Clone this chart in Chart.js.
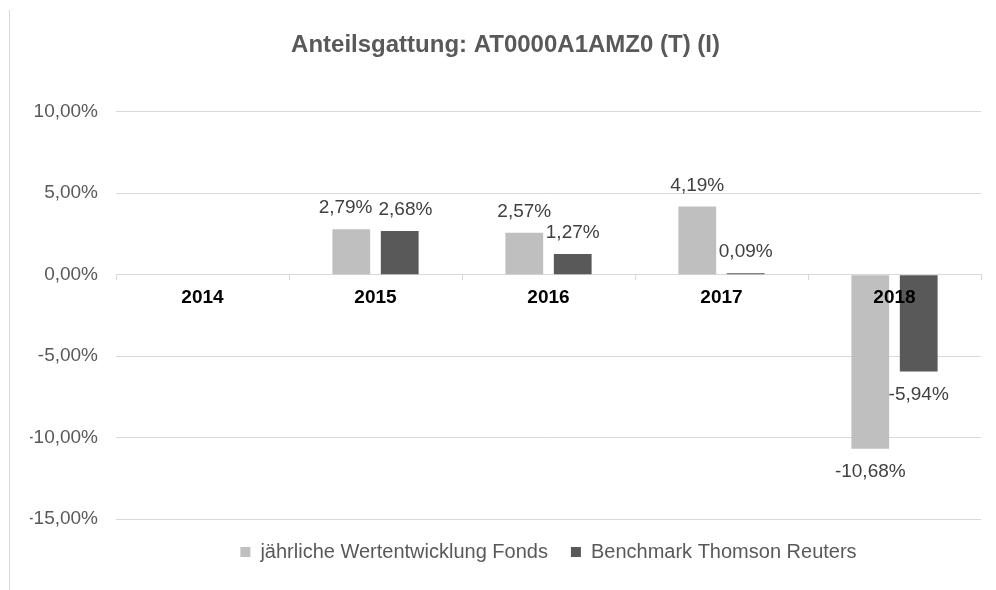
<!DOCTYPE html>
<html lang="de">
<head>
  <meta charset="UTF-8" />
  <title>Anteilsgattung: AT0000A1AMZ0 (T) (I)</title>
  <script src="https://cdn.jsdelivr.net/npm/chart.js"></script>
  <style>
    body { margin: 0; background: #fff; }
    #wrap { position: relative; width: 996px; height: 590px; }
    #frame { position: absolute; left: 9px; top: 10px; bottom: 0; width: 1px; background: #d9d9d9; }
  </style>
</head>
<body>
  <div id="wrap">
    <div id="frame"></div>
    <canvas id="chart"></canvas>
  </div>
  <script>
    const years = ['2014', '2015', '2016', '2017', '2018'];
    const fonds = [null, 2.79, 2.57, 4.19, -10.68];
    const benchmark = [null, 2.68, 1.27, 0.09, -5.94];
    const yTicks = [10, 5, 0, -5, -10, -15];

    const pct = v => v.toFixed(2).replace('.', ',') + '%';
    const FONT = "'Liberation Sans', Arial, sans-serif";

    // value labels above / below the bars, pushed apart when they collide
    const valueLabels = {
      id: 'valueLabels',
      afterDatasetsDraw(chart) {
        const ctx = chart.ctx;
        ctx.save();
        ctx.font = '19px ' + FONT;
        ctx.fillStyle = '#404040';
        ctx.textAlign = 'center';
        ctx.textBaseline = 'middle';
        const metas = chart.data.datasets.map((d, i) => chart.getDatasetMeta(i));
        years.forEach((y, j) => {
          const items = [];
          metas.forEach((meta, i) => {
            const v = chart.data.datasets[i].data[j];
            if (v == null) return;
            const el = meta.data[j];
            const txt = pct(v);
            const ty = v >= 0 ? el.y - 21 : el.y + 23;
            items.push({ txt, x: el.x, y: ty, w: ctx.measureText(txt).width });
          });
          if (items.length === 2 && Math.abs(items[0].y - items[1].y) < 20) {
            const overlap = (items[0].x + items[0].w / 2) - (items[1].x - items[1].w / 2) + 6;
            if (overlap > 0) { items[0].x -= overlap / 2; items[1].x += overlap / 2; }
          }
          items.forEach(it => ctx.fillText(it.txt, it.x, it.y));
        });
        ctx.restore();
      }
    };

    new Chart(document.getElementById('chart'), {
      type: 'bar',
      data: {
        labels: years,
        datasets: [
          { label: 'jährliche Wertentwicklung Fonds', data: fonds, backgroundColor: '#bfbfbf' },
          { label: 'Benchmark Thomson Reuters', data: benchmark, backgroundColor: '#595959' }
        ]
      },
      options: {
        responsive: true,
        maintainAspectRatio: false,
        animation: false,
        categoryPercentage: 0.56,
        barPercentage: 0.78,
        layout: { padding: { left: 30, right: 15, top: 0, bottom: 18 } },
        scales: {
          x: {
            position: { y: 0 },
            grid: { drawOnChartArea: false, drawTicks: true, tickLength: 5, color: '#d9d9d9', offset: true },
            border: { color: '#d9d9d9' },
            ticks: { z: 1, color: '#000', font: { family: FONT, size: 19, weight: 'bold' }, padding: 7 }
          },
          y: {
            min: -15, max: 10,
            afterFit: s => { s.width = 86; },
            afterBuildTicks: s => { s.ticks = yTicks.map(v => ({ value: v })); },
            grid: { color: '#d9d9d9', drawTicks: false },
            border: { display: false },
            ticks: { color: '#595959', font: { family: FONT, size: 19 }, padding: 18, callback: v => pct(v) }
          }
        },
        plugins: {
          title: {
            display: true,
            text: 'Anteilsgattung: AT0000A1AMZ0 (T) (I)',
            color: '#595959',
            font: { family: FONT, size: 24, weight: 'bold' },
            padding: { top: 31, bottom: 52 }
          },
          legend: {
            position: 'bottom',
            fullSize: false,
            labels: { color: '#595959', font: { family: FONT, size: 20 }, boxWidth: 10, boxHeight: 10, padding: 23 }
          },
          tooltip: { callbacks: { label: c => c.dataset.label + ': ' + pct(c.parsed.y) } }
        }
      },
      plugins: [valueLabels]
    });
  </script>
</body>
</html>
